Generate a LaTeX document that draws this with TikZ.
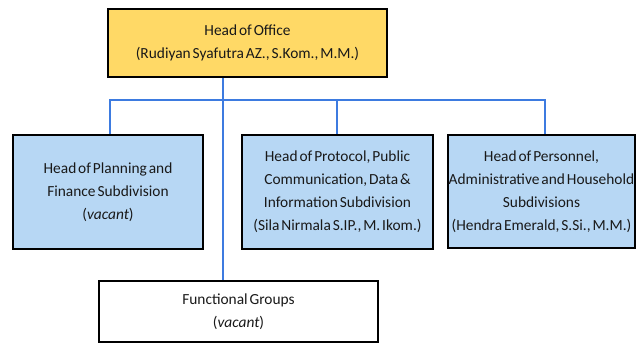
\documentclass[tikz,border=0pt]{standalone}
\usepackage{fontspec}
\setmainfont[WordSpace={0.55}]{Carlito}
\begin{document}
\begin{tikzpicture}[x=1pt,y=1pt,
  box/.style={draw=black,line width=2.4pt,align=center,inner sep=0pt,
    font=\fontsize{15.4}{23}\selectfont,text=black!90},
  link/.style={draw=linkblue,line width=1.8pt}]
\definecolor{linkblue}{HTML}{3D7BE0}
\definecolor{gold}{HTML}{FFD966}
\definecolor{lblue}{HTML}{B7D7F4}
\useasboundingbox (0,0) rectangle (637,-344);
\node[box,fill=gold,minimum width=279pt,minimum height=68pt] (office) at (247.5,-43)
  {Head of Office\\(Rudiyan Syafutra AZ., S.Kom., M.M.)};
\node[box,fill=lblue,minimum width=190pt,minimum height=114pt] (plan) at (108,-192)
  {Head of Planning and\\Finance Subdivision\\(\textit{vacant})};
\node[box,fill=lblue,minimum width=191pt,minimum height=114pt] (proto) at (337.5,-192)
  {Head of Protocol, Public\\Communication, Data \&\\Information Subdivision\\(Sila Nirmala S.IP., M. Ikom.)};
\node[box,fill=lblue,minimum width=187pt,minimum height=113pt] (pers) at (541.5,-191.5)
  {Head of Personnel,\\Administrative and Household\\Subdivisions\\(Hendra Emerald, S.Si., M.M.)};
\node[box,fill=white,minimum width=279pt,minimum height=61pt] (func) at (238.5,-311.5)
  {Functional Groups\\(\textit{vacant})};
\coordinate (t) at (223,-100);
\coordinate (b1) at (110,-100);
\coordinate (b2) at (337,-100);
\coordinate (b3) at (545,-100);
\draw[link] (t |- office.south) -- (t |- func.north);
\draw[link] (b1 |- plan.north) -- (b1) -- (b3) -- (b3 |- pers.north);
\draw[link] (b2) -- (b2 |- proto.north);
\end{tikzpicture}
\end{document}
